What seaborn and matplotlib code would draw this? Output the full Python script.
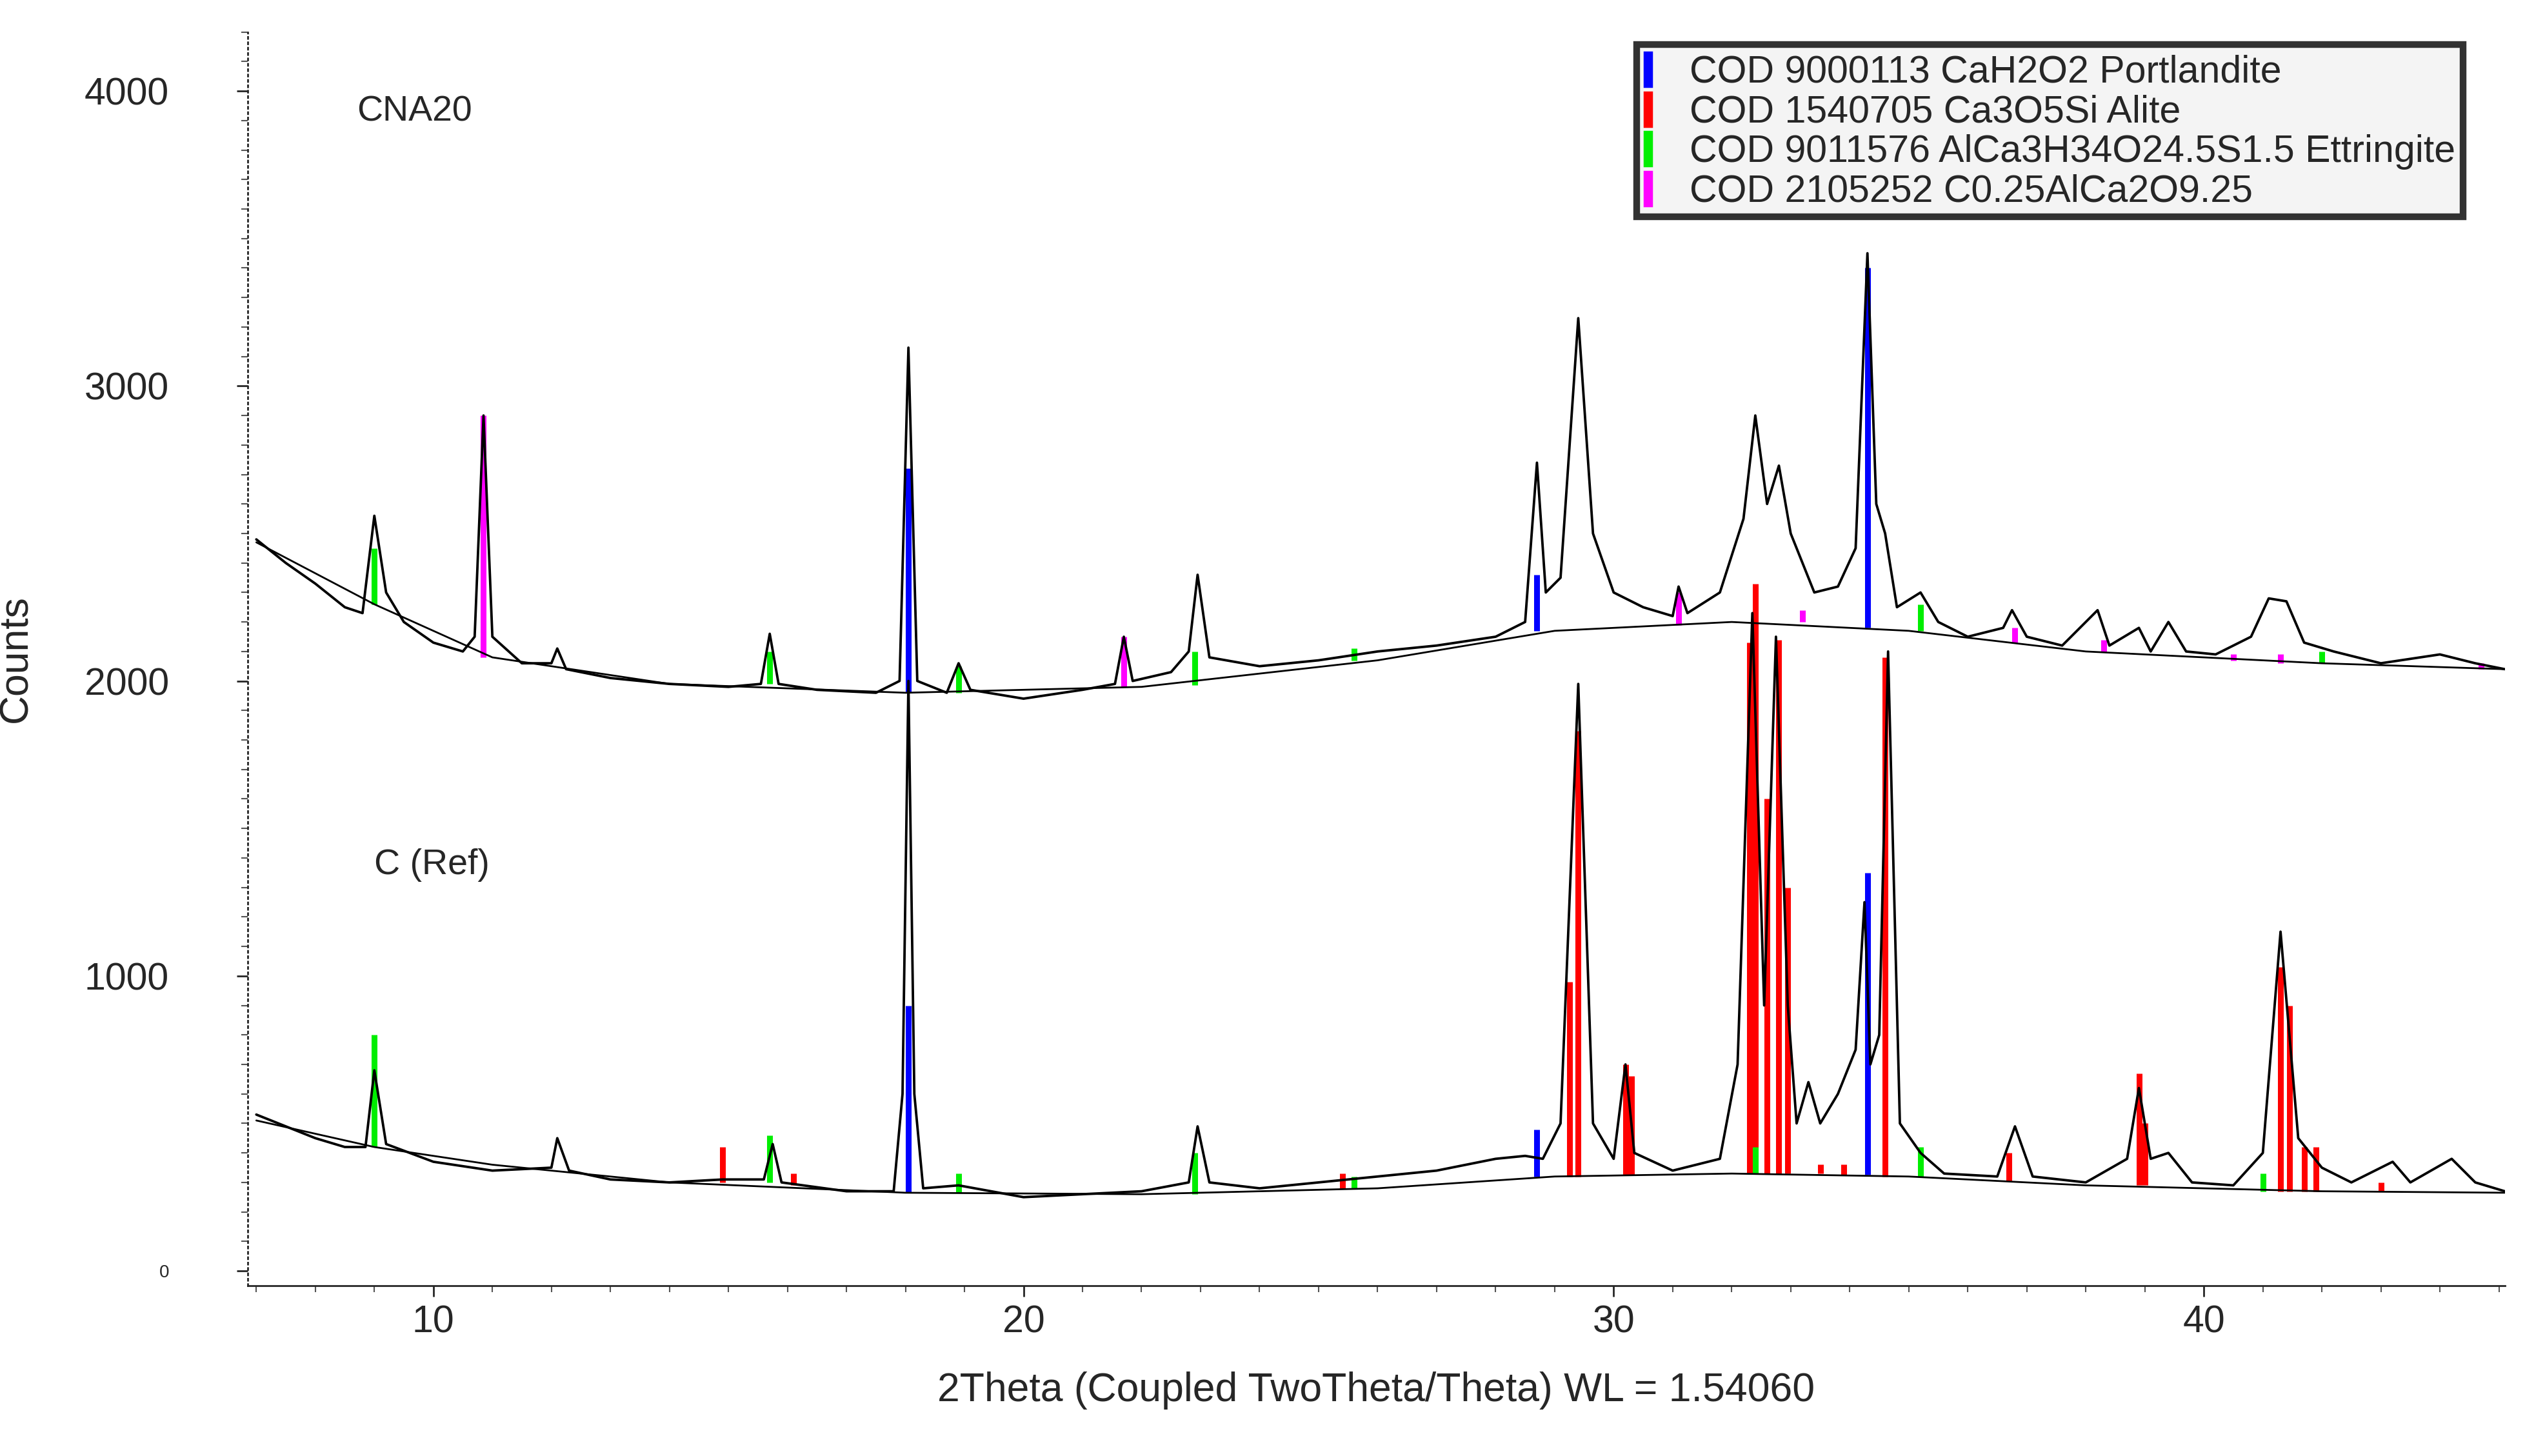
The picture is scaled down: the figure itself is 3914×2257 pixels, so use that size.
import numpy as np
import pandas as pd
import matplotlib
matplotlib.use('Agg')
import matplotlib.pyplot as plt
import seaborn as sns
from matplotlib.patches import Patch
from matplotlib.ticker import MultipleLocator

upper_x = [7.0, 7.5, 8.0, 8.5, 8.8, 9.0, 9.2, 9.5, 10.0, 10.5, 10.7, 10.85, 11.0, 11.5, 12.0, 12.1, 12.25, 13, 14, 15,
           15.55, 15.7, 15.85, 16.5, 17.5, 17.9, 18.05, 18.2, 18.7, 18.9, 19.1, 20, 21, 21.55, 21.7, 21.85, 22.5, 22.8,
           22.95, 23.15, 24, 25, 26, 27, 28, 28.5, 28.7, 28.85, 29.1, 29.4, 29.65, 30.0, 30.5, 31.0, 31.1, 31.25, 31.8,
           32.2, 32.4, 32.6, 32.8, 33.0, 33.4, 33.8, 34.1, 34.3, 34.45, 34.6, 34.8, 35.2, 35.5, 36, 36.6, 36.75, 37,
           37.6, 38.2, 38.4, 38.9, 39.1, 39.4, 39.7, 40.2, 40.8, 41.1, 41.4, 41.7, 42.2, 43, 44, 44.6, 45.1]
upper_y = [2480, 2400, 2330, 2250, 2230, 2560, 2300, 2200, 2130, 2100, 2150, 2900, 2150, 2060, 2060, 2110, 2040, 2010,
           1990, 1980, 1990, 2160, 1990, 1970, 1960, 2000, 3130, 2000, 1960, 2060, 1970, 1940, 1970, 1990, 2150, 2000,
           2030, 2100, 2360, 2080, 2050, 2070, 2100, 2120, 2150, 2200, 2740, 2300, 2350, 3230, 2500, 2300, 2250, 2220,
           2320, 2230, 2300, 2550, 2900, 2600, 2730, 2500, 2300, 2320, 2450, 3450, 2600, 2500, 2250, 2300, 2200, 2150,
           2180, 2240, 2150, 2120, 2240, 2120, 2180, 2100, 2200, 2100, 2090, 2150, 2280, 2270, 2130, 2100, 2060, 2090,
           2060, 2040]
lower_x = [7.0, 7.5, 8.0, 8.5, 8.85, 9.0, 9.2, 10, 11, 12.0, 12.1, 12.3, 13, 14, 14.9, 15.6, 15.75, 15.9, 17, 17.8,
           17.95, 18.05, 18.15, 18.3, 18.9, 20, 21, 22, 22.8, 22.95, 23.15, 24, 25, 26, 27, 28, 28.5, 28.8, 29.1, 29.4,
           29.65, 30, 30.2, 30.35, 31, 31.8, 32.1, 32.35, 32.55, 32.75, 32.95, 33.1, 33.3, 33.5, 33.8, 34.1, 34.25,
           34.35, 34.5, 34.65, 34.85, 35.2, 35.6, 36.5, 36.8, 37.1, 38, 38.7, 38.9, 39.1, 39.4, 39.8, 40.5, 41.0, 41.3,
           41.6, 42, 42.5, 43.2, 43.5, 44.2, 44.6, 45.1]
lower_y = [530, 490, 450, 420, 420, 680, 430, 370, 340, 350, 450, 340, 310, 300, 310, 310, 430, 300, 270, 270, 600,
           2000, 600, 280, 290, 250, 260, 270, 300, 490, 300, 280, 300, 320, 340, 380, 390, 380, 500, 1990, 500, 380,
           700, 400, 340, 380, 700, 2230, 900, 2150, 900, 500, 640, 500, 600, 750, 1250, 700, 800, 2100, 500, 400, 330,
           320, 490, 320, 300, 380, 620, 380, 400, 300, 290, 400, 1150, 450, 350, 300, 370, 300, 380, 300, 270]

# fitted backgrounds
bg_x = [7, 9, 11, 14, 18, 22, 26, 29, 32, 35, 38, 42, 45.1]
bg_upper = [2470, 2260, 2080, 1990, 1960, 1980, 2070, 2170, 2200, 2170, 2100, 2060, 2040]
bg_lower = [510, 420, 360, 300, 265, 260, 280, 320, 330, 320, 290, 270, 265]

# reference phase sticks: (position, base, top)
portlandite = [(18.05, 1960, 2720), (28.7, 2170, 2360), (34.3, 2180, 3400),
               (18.05, 265, 900), (28.7, 320, 480), (34.3, 325, 1350)]
alite = [(14.9, 300, 420), (29.25, 320, 980), (29.4, 320, 1830), (30.2, 325, 700), (30.3, 325, 660),
         (32.3, 330, 2130), (32.4, 330, 2330), (32.6, 330, 1600), (32.8, 330, 2140), (32.95, 330, 1300),
         (34.6, 320, 2080), (36.7, 305, 400), (38.9, 290, 670), (39.0, 290, 500), (41.3, 270, 1030),
         (41.45, 270, 900), (41.7, 270, 420), (41.9, 270, 420), (25.4, 280, 330), (33.5, 330, 360),
         (33.9, 325, 360), (43.0, 270, 300), (16.1, 290, 330)]
ettringite = [(9.0, 2260, 2450), (15.7, 1990, 2100), (18.9, 1960, 2050), (22.9, 1985, 2100), (35.2, 2170, 2260),
              (42.0, 2060, 2100), (25.6, 2070, 2110),
              (9.0, 420, 800), (15.7, 300, 460), (18.9, 265, 330), (22.9, 260, 400), (32.4, 330, 420),
              (35.2, 320, 420), (41.0, 270, 330), (25.6, 280, 320)]
c_phase = [(10.85, 2080, 2900), (21.7, 1980, 2150), (31.1, 2190, 2300), (33.2, 2200, 2240), (36.8, 2130, 2180),
           (38.3, 2100, 2140), (40.5, 2070, 2090), (41.3, 2060, 2090), (44.7, 2040, 2060)]

phases = [
    ('COD 9000113 CaH2O2 Portlandite', '#0000ff', portlandite),
    ('COD 1540705 Ca3O5Si Alite', '#ff0000', alite),
    ('COD 9011576 AlCa3H34O24.5S1.5 Ettringite', '#00ee00', ettringite),
    ('COD 2105252 C0.25AlCa2O9.25', '#ff00ff', c_phase),
]

sns.set_style('white')
plt.rcParams['font.family'] = ['Liberation Sans', 'DejaVu Sans']

fig = plt.figure(figsize=(15.656, 9.028), dpi=250)
ax = fig.add_axes([0.098, 0.117, 0.894, 0.861])

for label, color, sticks in phases:
    pos = [s[0] for s in sticks]
    ax.vlines(pos, [s[1] for s in sticks], [s[2] for s in sticks], color=color, lw=2.6, zorder=2)

sns.lineplot(x=bg_x, y=bg_upper, ax=ax, color='black', lw=0.8, zorder=3)
sns.lineplot(x=bg_x, y=bg_lower, ax=ax, color='black', lw=0.8, zorder=3)
sns.lineplot(data=pd.DataFrame({'x': upper_x, 'y': upper_y}), x='x', y='y', ax=ax, color='black',
             lw=1.1, zorder=4, sort=False)
sns.lineplot(data=pd.DataFrame({'x': lower_x, 'y': lower_y}), x='x', y='y', ax=ax, color='black',
             lw=1.1, zorder=4, sort=False)

ax.set_xlim(6.85, 45.1)
ax.set_ylim(-50, 4200)
ax.set_xticks([10, 20, 30, 40])
ax.xaxis.set_minor_locator(MultipleLocator(1))
ax.set_yticks([0, 1000, 2000, 3000, 4000])
ax.set_yticklabels(['0', '1000', '2000', '3000', '4000'])
ax.yaxis.set_minor_locator(MultipleLocator(100))
ax.tick_params(axis='both', which='major', labelsize=17, length=5, direction='out', left=True, bottom=True)
ax.tick_params(axis='both', which='minor', length=3, left=True, bottom=True, color='#555555')
ax.tick_params(axis='y', which='major', pad=30)
ax.get_yticklabels()[0].set_fontsize(8)
ax.spines['top'].set_visible(False)
ax.spines['right'].set_visible(False)
ax.spines['left'].set_linestyle((0, (1, 2)))
ax.set_xlabel('2Theta (Coupled TwoTheta/Theta) WL = 1.54060', fontsize=18, labelpad=14)
ax.set_ylabel('Counts', fontsize=18, labelpad=22)

ax.text(8.7, 3930, 'CNA20', fontsize=16, va='center')
ax.text(9.0, 1375, 'C (Ref)', fontsize=16, va='center')

handles = [Patch(facecolor=c, edgecolor=c) for _, c, _ in phases]
leg = ax.legend(handles, [p[0] for p in phases], loc='upper right', bbox_to_anchor=(0.99, 1.005),
                fontsize=17, handlelength=0.2, handleheight=1.0, handletextpad=1.0, labelspacing=0.05,
                frameon=True, fancybox=False, borderpad=0.2)
leg.get_frame().set_edgecolor('black')
leg.get_frame().set_linewidth(3)
leg.get_frame().set_facecolor('#f2f2f2')

fig.savefig('out.png', dpi=250)
